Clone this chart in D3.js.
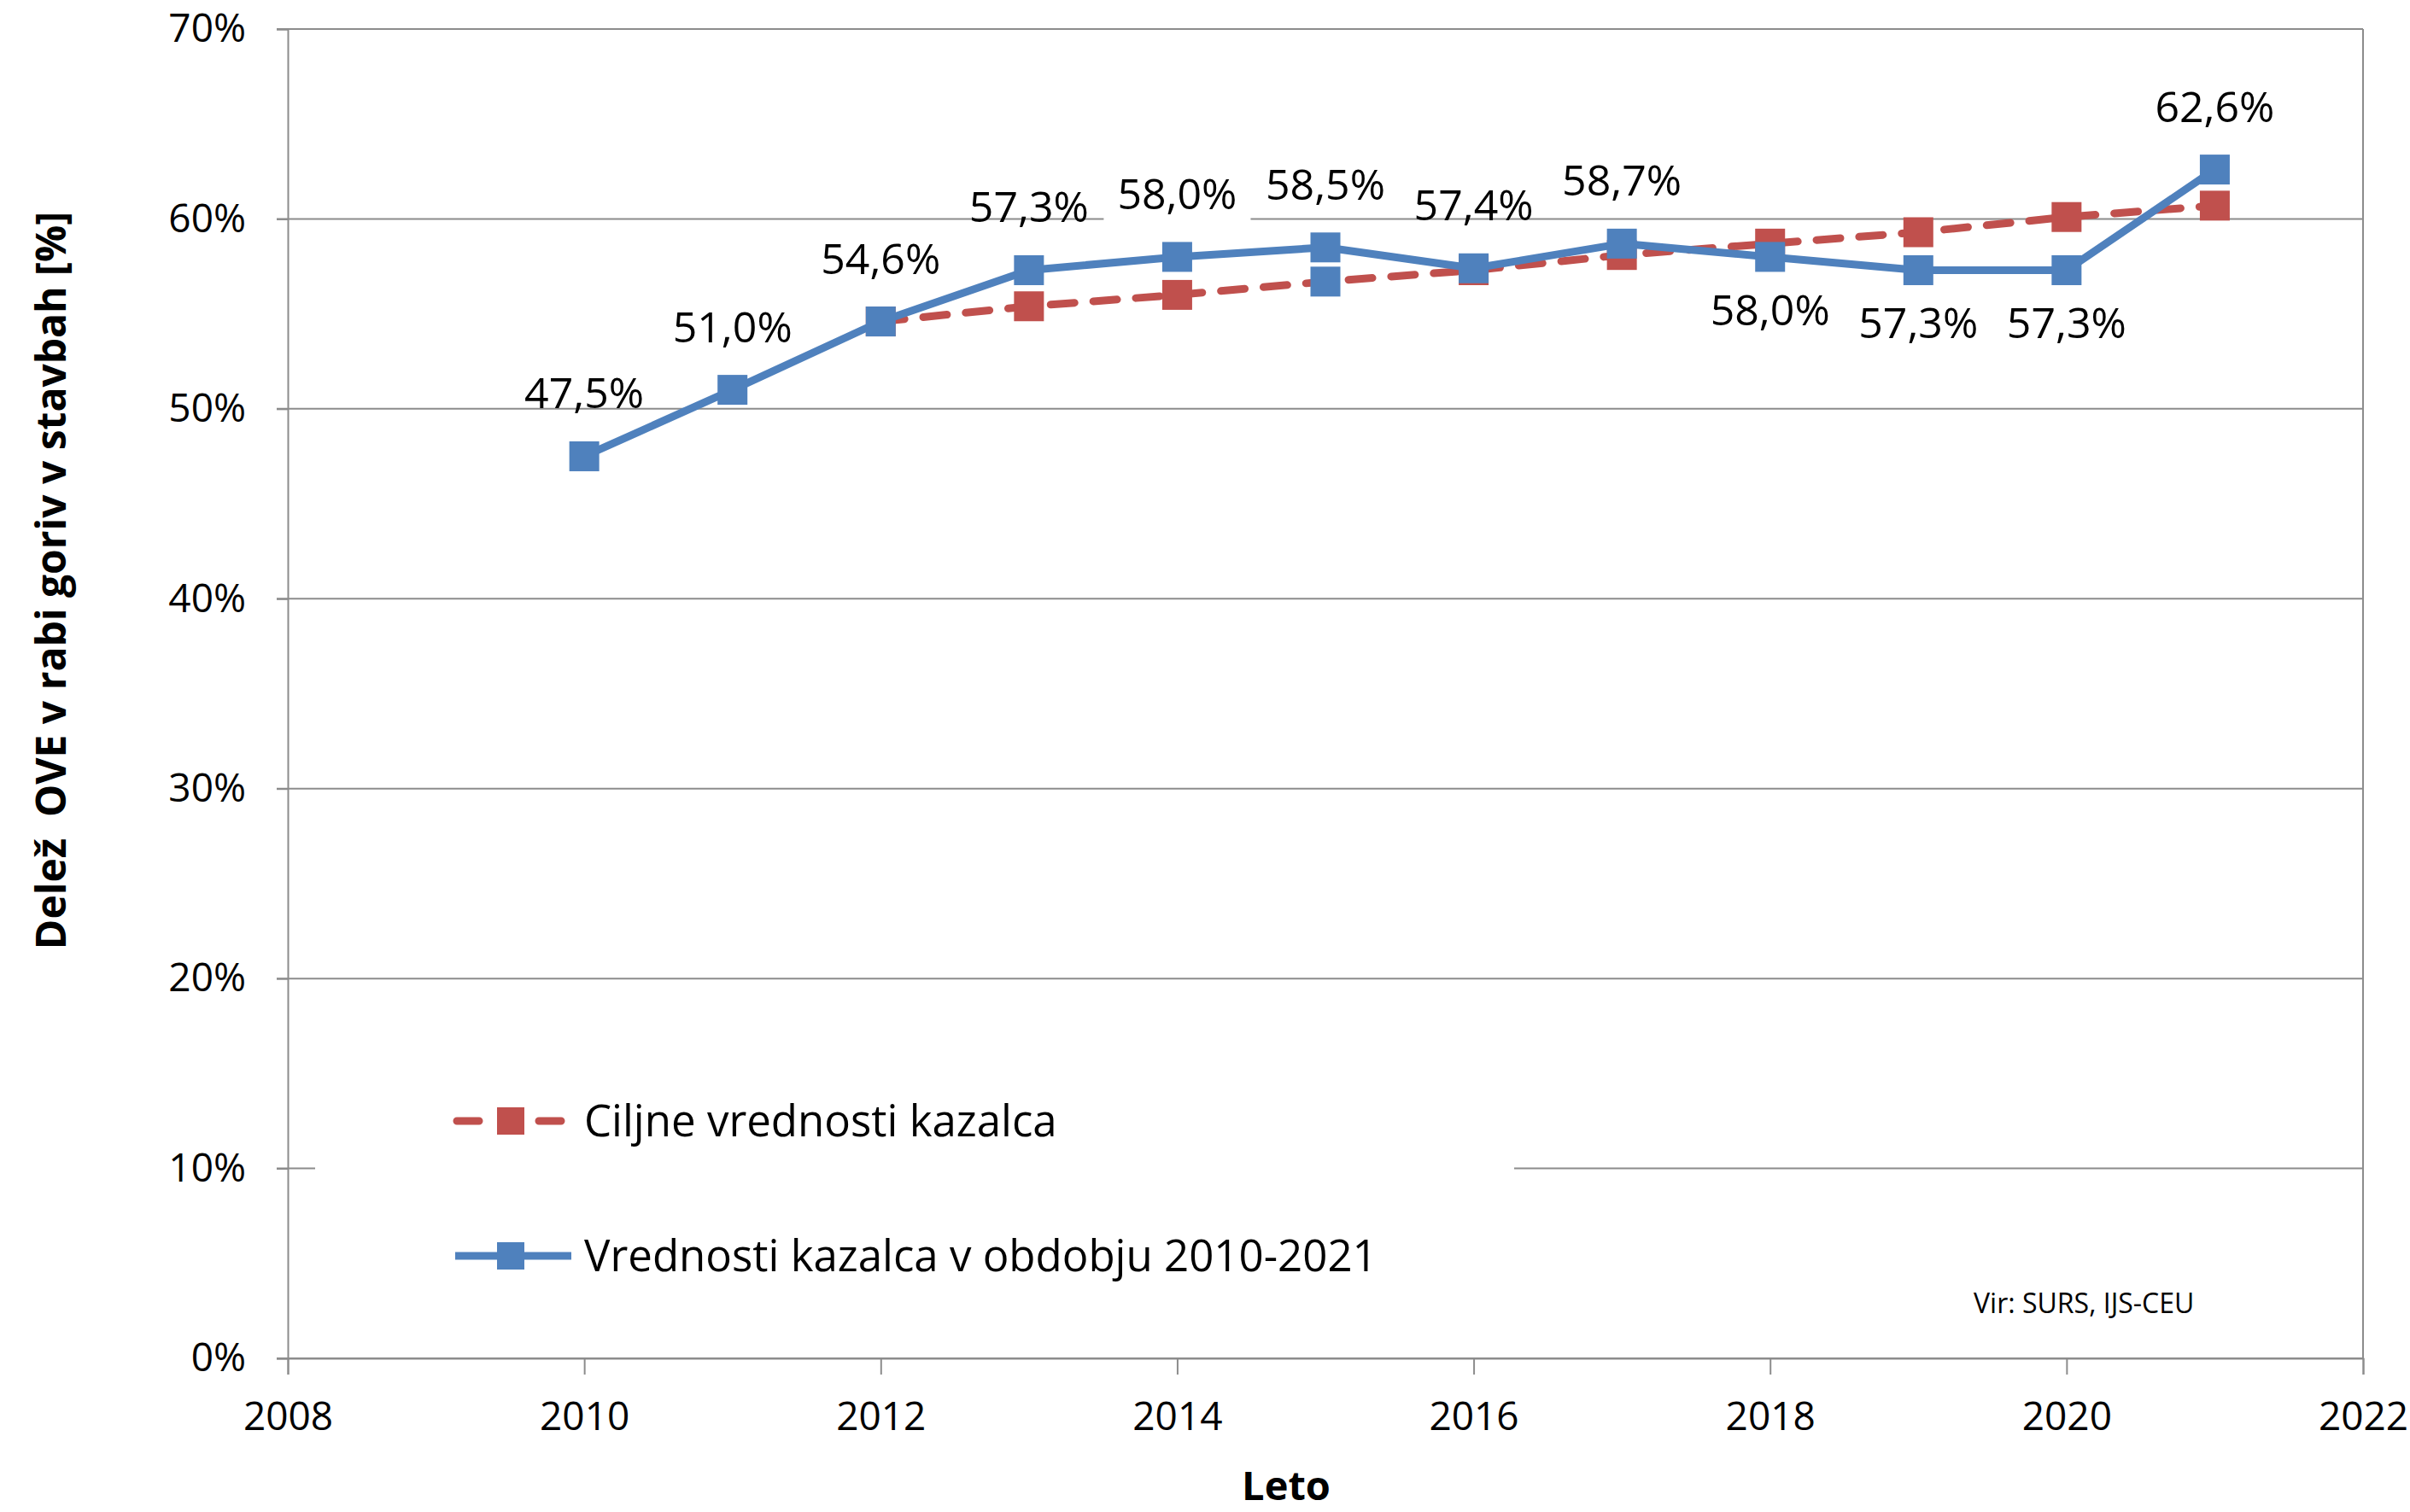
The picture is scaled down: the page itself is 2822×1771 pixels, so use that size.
<!DOCTYPE html>
<html>
<head>
<meta charset="utf-8">
<script src="https://cdn.jsdelivr.net/npm/d3@7"></script>
<style>
  body { margin: 0; background: #fff; }
  text { font-family: "Open Sans", sans-serif; fill: #000; }
</style>
</head>
<body>
<div id="chart"></div>
<script>

/**************
***** DATA *****
**************/

const YEARS = [2010, 2011, 2012, 2013, 2014, 2015, 2016, 2017, 2018, 2019, 2020, 2021];
const ACTUAL = [47.5, 51.0, 54.6, 57.3, 58.0, 58.5, 57.4, 58.7, 58.0, 57.3, 57.3, 62.6];
const ACTUAL_LABELS = ["47,5%", "51,0%", "54,6%", "57,3%", "58,0%", "58,5%", "57,4%", "58,7%", "58,0%", "57,3%", "57,3%", "62,6%"];
const LABEL_SIDE = ["above", "above", "above", "above", "above", "above", "above", "above", "below", "below", "below", "above"];

const TARGET_YEARS = [2012, 2013, 2014, 2015, 2016, 2017, 2018, 2019, 2020, 2021];
const TARGET = [54.6, 55.4, 56.0, 56.7, 57.3, 58.1, 58.7, 59.3, 60.1, 60.7];

const Y_TICKS = [0, 10, 20, 30, 40, 50, 60, 70];
const X_TICKS = [2008, 2010, 2012, 2014, 2016, 2018, 2020, 2022];

const SERIES_NAMES = ["Ciljne vrednosti kazalca", "Vrednosti kazalca v obdobju 2010-2021"];

/*********************
***** BASIC SETUP *****
*********************/

const width = 2822;
const height = 1771;
const margin = {top: 34, left: 337, right: 55, bottom: 180};

const BLUE = "#4F81BD";
const RED = "#C0504D";
const GRID = "#8c8c8c";
const MARKER = 35;

const svg = d3.select("#chart").append("svg")
    .attr("width", width)
    .attr("height", height);

const x = d3.scaleLinear()
    .domain([2008, 2022])
    .range([margin.left, width - margin.right]);

const y = d3.scaleLinear()
    .domain([0, 70])
    .range([height - margin.bottom, margin.top]);

/*****************
***** GRID *****
*****************/

svg.append("g")
    .selectAll("line")
    .data(Y_TICKS)
    .join("line")
    .attr("x1", x(2008) - 13)
    .attr("x2", x(2022))
    .attr("y1", d => y(d))
    .attr("y2", d => y(d))
    .attr("stroke", GRID)
    .attr("stroke-width", 2);

// right border of plot area
svg.append("line")
    .attr("x1", x(2022)).attr("x2", x(2022))
    .attr("y1", y(70)).attr("y2", y(0))
    .attr("stroke", GRID)
    .attr("stroke-width", 2);

/****************
***** AXES *****
****************/

const yAxis = svg.append("g")
    .attr("transform", `translate(${x(2008)},0)`)
    .call(d3.axisLeft(y)
        .tickValues(Y_TICKS)
        .tickFormat(d => d + "%")
        .tickSize(13)
        .tickPadding(36));

const xAxis = svg.append("g")
    .attr("transform", `translate(0,${y(0)})`)
    .call(d3.axisBottom(x)
        .tickValues(X_TICKS)
        .tickFormat(d3.format("d"))
        .tickSize(19)
        .tickPadding(32));

[xAxis, yAxis].forEach(function(a) {
    a.select(".domain").attr("stroke", GRID).attr("stroke-width", 2);
    a.selectAll(".tick line").attr("stroke", GRID).attr("stroke-width", 2);
    a.selectAll(".tick text")
        .attr("font-family", "Open Sans, sans-serif")
        .attr("font-size", 46)
        .attr("fill", "#111");
});

// axis titles
svg.append("text")
    .attr("transform", `translate(77, 680) rotate(-90)`)
    .attr("text-anchor", "middle")
    .attr("font-size", 48)
    .attr("font-weight", "bold")
    .text("Delež  OVE v rabi goriv v stavbah [%]")
    .style("white-space", "pre");

svg.append("text")
    .attr("x", 1506)
    .attr("y", 1757)
    .attr("text-anchor", "middle")
    .attr("font-size", 47)
    .attr("font-weight", "bold")
    .text("Leto");

/******************
***** SERIES *****
******************/

const line = d3.line()
    .x(d => x(d[0]))
    .y(d => y(d[1]));

function markers(g, pts, color) {
    g.selectAll("rect.m")
        .data(pts)
        .join("rect")
        .attr("class", "m")
        .attr("x", d => x(d[0]) - MARKER / 2)
        .attr("y", d => y(d[1]) - MARKER / 2)
        .attr("width", MARKER)
        .attr("height", MARKER)
        .attr("fill", d => color(d));
}

const targetPts = TARGET_YEARS.map((t, i) => [t, TARGET[i]]);
const actualPts = YEARS.map((t, i) => [t, ACTUAL[i]]);

const targetG = svg.append("g");
targetG.append("path")
    .datum(targetPts)
    .attr("d", line)
    .attr("fill", "none")
    .attr("stroke", RED)
    .attr("stroke-width", 9)
    .attr("stroke-linecap", "round")
    .attr("stroke-dasharray", "28,22");
// the 2015 target point is coloured blue in the original
markers(targetG, targetPts, d => d[0] === 2015 ? BLUE : RED);

const actualG = svg.append("g");
actualG.append("path")
    .datum(actualPts)
    .attr("d", line)
    .attr("fill", "none")
    .attr("stroke", BLUE)
    .attr("stroke-width", 9)
    .attr("stroke-linejoin", "round");
markers(actualG, actualPts, d => BLUE);

/*************************
***** DATA LABELS *****
*************************/

const labels = svg.append("g");
YEARS.forEach(function(t, i) {
    const ly = LABEL_SIDE[i] === "above" ? y(ACTUAL[i]) - 56 : y(ACTUAL[i]) + 80;
    const txt = labels.append("text")
        .attr("x", x(t))
        .attr("y", ly)
        .attr("text-anchor", "middle")
        .attr("font-size", 50)
        .text(ACTUAL_LABELS[i]);
    // the 2014 label sits in a white box that hides the gridline
    if (t === 2014) {
        const b = txt.node().getBBox();
        labels.insert("rect", "text")
            .attr("x", b.x - 16)
            .attr("y", b.y - 4)
            .attr("width", b.width + 32)
            .attr("height", b.height + 14)
            .attr("fill", "#fff");
    }
});

/*****************
***** LEGEND *****
*****************/

const legend = svg.append("g");
legend.append("rect")
    .attr("x", 369).attr("y", 1240)
    .attr("width", 1404).attr("height", 300)
    .attr("fill", "#fff");

const legendRows = [
    {name: SERIES_NAMES[0], color: RED, dashed: true, y: 1313},
    {name: SERIES_NAMES[1], color: BLUE, dashed: false, y: 1471}
];

legendRows.forEach(function(r) {
    legend.append("line")
        .attr("x1", r.dashed ? 535 : 533)
        .attr("x2", r.dashed ? 657 : 669)
        .attr("y1", r.y).attr("y2", r.y)
        .attr("stroke", r.color)
        .attr("stroke-width", 9)
        .attr("stroke-linecap", r.dashed ? "round" : "butt")
        .attr("stroke-dasharray", r.dashed ? "26,70,26" : null);
    legend.append("rect")
        .attr("x", 598 - 16).attr("y", r.y - 16)
        .attr("width", 32).attr("height", 32)
        .attr("fill", r.color);
    legend.append("text")
        .attr("x", 684)
        .attr("y", r.y + 18)
        .attr("font-size", 51)
        .text(r.name);
});

// source note
svg.append("text")
    .attr("x", 2311)
    .attr("y", 1538)
    .attr("font-size", 32)
    .text("Vir: SURS, IJS-CEU");

</script>
</body>
</html>
